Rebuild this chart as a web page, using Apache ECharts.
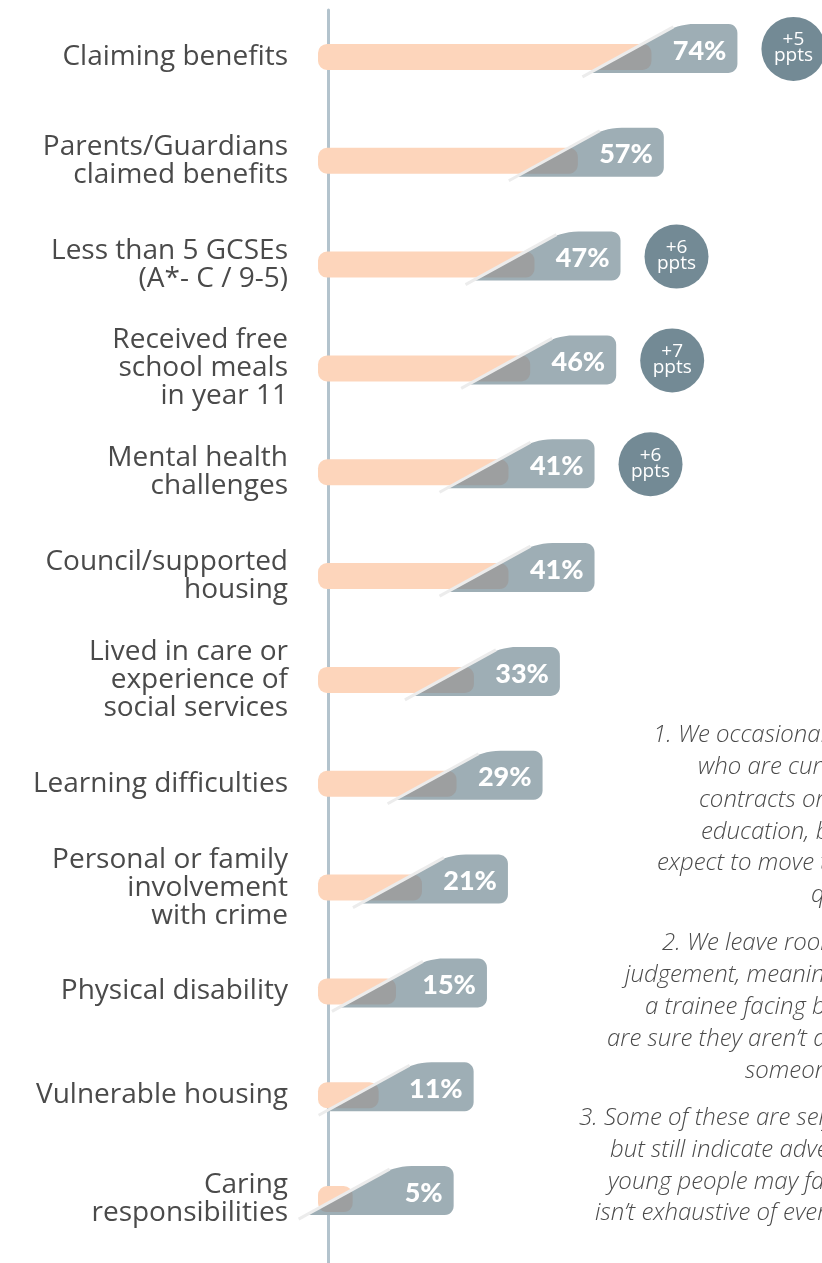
<!DOCTYPE html>
<html><head><meta charset="utf-8">
<script src="https://cdn.jsdelivr.net/npm/echarts@6/dist/echarts.min.js"></script>
<style>html,body{margin:0;padding:0;background:#fff}#c{width:822px;height:1263px}</style>
</head><body><div id="c"></div>
<script>
const categories = ['Claiming benefits','Parents/Guardians\nclaimed benefits','Less than 5 GCSEs\n(A*- C / 9-5)','Received free\nschool meals\nin year 11','Mental health\nchallenges','Council/supported\nhousing','Lived in care or\nexperience of\nsocial services','Learning difficulties','Personal or family\ninvolvement\nwith crime','Physical disability','Vulnerable housing','Caring\nresponsibilities'];
const values = [74,57,47,46,41,41,33,29,21,15,11,5];
const changePpts = [5,null,6,7,6,null,null,null,null,null,null,null];
const footnoteLines = [
  '1. We occasionally work with people','who are currently on zero hours','contracts or in short-term','education, but we would','expect to move them into','qualified work.',
  '2. We leave room for personal','judgement, meaning we may take on','a trainee facing barriers if we','are sure they aren\u2019t already','someone in work.',
  '3. Some of these are self-reported','but still indicate adversity','young people may face. This list','isn\u2019t exhaustive of every barrier.'
];
// layout of footnote lines (left x, centre y)
const footnoteX = [653,698,699,701,657,811, 662,625,645,607,745, 579,610,608,595];
const footnoteY = [735,767,800,832,863,895, 943,975,1007,1039,1071, 1118,1150,1182,1213];

const PEACH='#fdd5bb', GREY='#9eaeb5', OVER='#9d9fa0', LINE='#ececec', BUB='#738a95';

function roundRectPts(x0,y0,x1,y1,r){
  const pts=[]; const n=6;
  const arc=(cx,cy,a0,a1)=>{for(let i=0;i<=n;i++){const a=a0+(a1-a0)*i/n;pts.push([cx+r*Math.cos(a),cy+r*Math.sin(a)]);}};
  arc(x1-r,y0+r,-Math.PI/2,0);
  arc(x1-r,y1-r,0,Math.PI/2);
  arc(x0+r,y1-r,Math.PI/2,Math.PI);
  arc(x0+r,y0+r,Math.PI,1.5*Math.PI);
  return pts;
}
function clipHalf(poly,A,B){
  const f=p=>(B[0]-A[0])*(p[1]-A[1])-(B[1]-A[1])*(p[0]-A[0]);
  const out=[];
  for(let i=0;i<poly.length;i++){
    const P=poly[i],Q=poly[(i+1)%poly.length];const fp=f(P),fq=f(Q);
    if(fp>=0)out.push(P);
    if((fp>=0)!==(fq>=0)){const t=fp/(fp-fq);out.push([P[0]+(Q[0]-P[0])*t,P[1]+(Q[1]-P[1])*t]);}
  }
  return out;
}
function renderItem(params, api){
  const idx=api.value(0), v=api.value(1);
  const p0=api.coord([0,idx]), p1=api.coord([v,idx]);
  const yc=p1[1], px=p1[0];
  const left=p0[0]-13;
  const R=px+86+Math.max(0,20-v);
  const B=yc+16, T=yc-33, r=9;
  const A=[R-155,yc+20], D=[R-64,yc-30];
  const lerp=t=>[A[0]+(D[0]-A[0])*t, A[1]+(D[1]-A[1])*t];
  const tB=(A[1]-B)/(A[1]-D[1]);
  const g=[];
  g.push(lerp(tB));
  const c0=lerp(0.7), c1=lerp(0.88), c2=[R-62,T], c3=[R-42,T];
  for(let i=0;i<=12;i++){const t=i/12,u=1-t;
    g.push([u*u*u*c0[0]+3*u*u*t*c1[0]+3*u*t*t*c2[0]+t*t*t*c3[0], u*u*u*c0[1]+3*u*u*t*c1[1]+3*u*t*t*c2[1]+t*t*t*c3[1]]);}
  for(let i=0;i<=6;i++){const a=-Math.PI/2+Math.PI/2*i/6;g.push([R-r+r*Math.cos(a),T+r+r*Math.sin(a)]);}
  for(let i=0;i<=6;i++){const a=Math.PI/2*i/6;g.push([R-r+r*Math.cos(a),B-r+r*Math.sin(a)]);}
  const peachPts=roundRectPts(left,yc-13,px,yc+13,9);
  const over=clipHalf(peachPts,A,D);
  const children=[
    {type:'rect',shape:{x:left,y:yc-13,width:px-left,height:26,r:9},style:{fill:PEACH}},
    {type:'polygon',shape:{points:g},style:{fill:GREY}},
    {type:'polygon',shape:{points:over},style:{fill:OVER}},
    {type:'line',shape:{x1:A[0],y1:A[1],x2:D[0],y2:D[1]},style:{stroke:LINE,lineWidth:3}},
    {type:'text',x:R-11,y:yc-6,style:{text:v+'%',fill:'#fff',fontFamily:'Lato',fontWeight:900,fontSize:27,align:'right',verticalAlign:'middle'}}
  ];
  const ch=changePpts[idx];
  if(ch!=null){
    children.push({type:'circle',shape:{cx:R+56,cy:yc-8,r:32},style:{fill:BUB}});
    children.push({type:'text',x:R+56,y:yc-9,style:{text:'+'+ch+'\nppts',fill:'#fff',fontFamily:'Open Sans',fontSize:19,lineHeight:16,align:'center',verticalAlign:'middle'}});
  }
  return {type:'group',children};
}

const chart=echarts.init(document.getElementById('c'),null,{renderer:'canvas'});
const graphics=footnoteLines.map((t,i)=>({type:'text',x:footnoteX[i],y:footnoteY[i],style:{text:t,fill:'#4a4a4a',fontFamily:'Open Sans',fontStyle:'italic',fontWeight:300,fontSize:24,align:'left',verticalAlign:'middle'}}));
chart.setOption({
  animation:false,
  backgroundColor:'#fff',
  grid:[{left:331,right:58,top:5,bottom:12},{left:328,width:10,top:10,bottom:0}],
  xAxis:[{type:'value',min:0,max:100,show:false},{type:'value',gridIndex:1,show:false}],
  yAxis:[
    {type:'category',data:categories,inverse:true,axisLine:{show:false},axisTick:{show:false},splitLine:{show:false},
     axisLabel:{fontFamily:'Open Sans',fontSize:28,color:'#4a4a4a',lineHeight:28,margin:43,align:'right'}},
    {type:'value',gridIndex:1,axisLine:{show:true,lineStyle:{color:'#b3c3cd',width:3}},axisTick:{show:false},axisLabel:{show:false},splitLine:{show:false}}
  ],
  graphic:graphics,
  series:[{type:'custom',renderItem,clip:false,encode:{x:1,y:0},data:values.map((v,i)=>[i,v]),z:5}]
});
</script></body></html>
